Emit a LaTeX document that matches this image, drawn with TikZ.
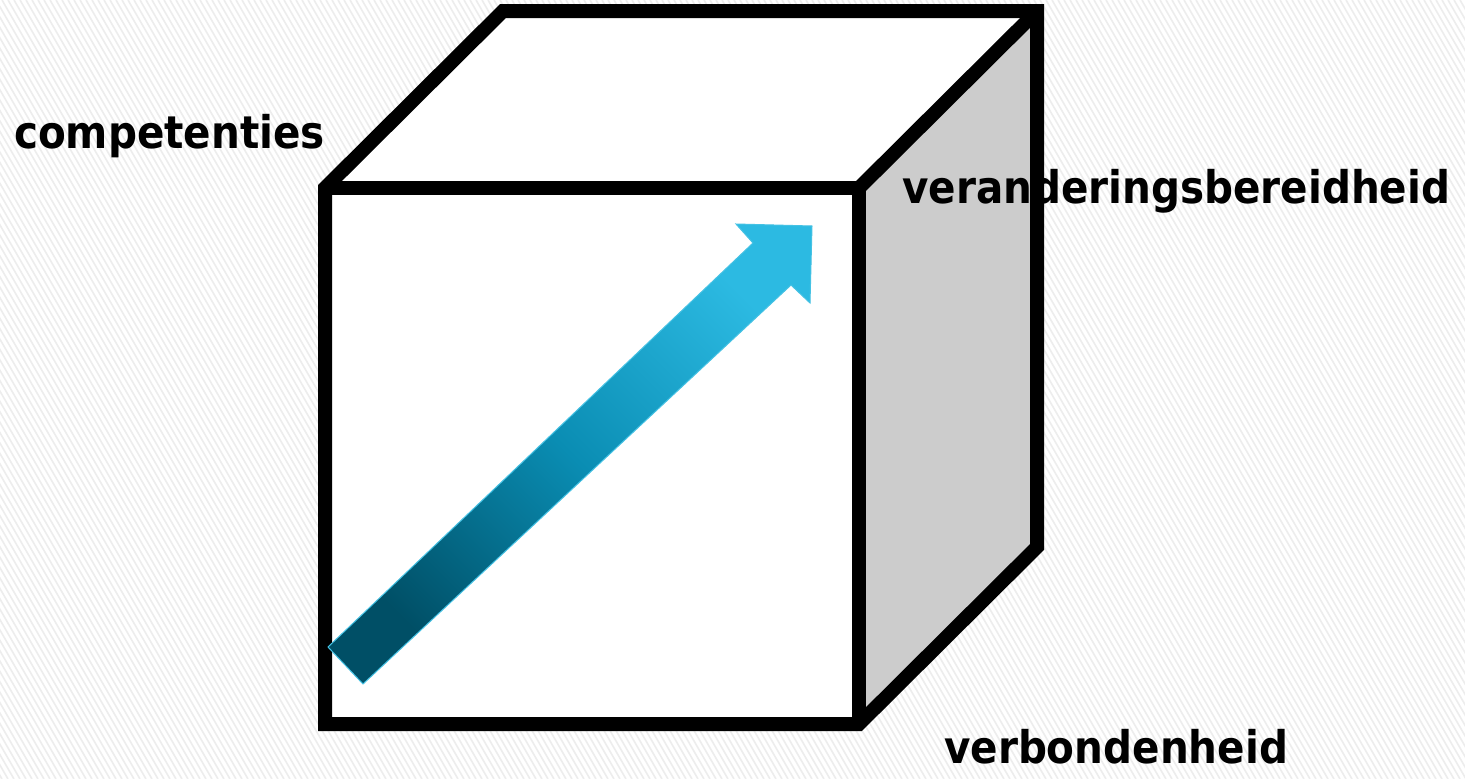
\documentclass[tikz,border=0pt]{standalone}
\usepackage{fontspec}
\setmainfont{DejaVu Sans}
\newfontfamily\lblfont{DejaVu Sans Condensed}
\definecolor{arrdark}{HTML}{004F66}
\definecolor{arrmid}{HTML}{0A8DB3}
\definecolor{arrlight}{HTML}{2CBAE2}
\definecolor{arredge}{HTML}{45C2E4}
\definecolor{sideface}{HTML}{CCCCCC}
\begin{document}
\begin{tikzpicture}[x=1pt,y=-1pt,
  edge/.style={line width=14pt, line join=miter, draw=black},
  lbl/.style={anchor=base west, inner sep=0pt, font=\lblfont\bfseries\fontsize{45}{54}\selectfont},
  stripe/.style={draw=black!7, line width=1.6pt}]
\fill[white] (0,0) rectangle (1465,779);
\useasboundingbox (0,0) rectangle (1465,779);
\begin{scope}
  \clip (0,0) rectangle (1465,779);
  \foreach \i in {-460,-454,...,1470} \draw[stripe] (\i,0) -- ++(450,779);
\end{scope}
% cube corners
\coordinate (A) at (325,188);
\coordinate (B) at (859,188);
\coordinate (C) at (859,724);
\coordinate (D) at (325,724);
\coordinate (E) at (503,11);
\coordinate (F) at (1037,11);
\coordinate (G) at (1037,547);
% faces
\fill[white] (A) -- (E) -- (F) -- (B) -- cycle;
\fill[sideface] (B) -- (F) -- (G) -- (C) -- cycle;
\fill[white] (A) -- (B) -- (C) -- (D) -- cycle;
% labels
\node[lbl] (comp) at (14,148) {competenties};
\node[lbl] (verand) at (902,203) {veranderingsbereidheid};
\node[lbl] (verb) at (944,763) {verbondenheid};
% edges
\draw[edge] (A) -- (E) -- (F) -- (G) -- (C) -- (D) -- cycle;
\draw[edge] (A) -- (B) -- (C);
\draw[edge] (B) -- (F);
% arrow
\coordinate (t1) at (328,647);
\coordinate (n1) at (753,243);
\coordinate (b1) at (736,224);
\coordinate (tip) at (812,226);
\coordinate (b2) at (810,303);
\coordinate (n2) at (791,285);
\coordinate (t2) at (363,684);
\fill[black, opacity=0.15, xshift=4pt, yshift=-6pt] (t1) -- (n1) -- (b1) -- (tip) -- (b2) -- (n2) -- (t2) -- cycle;
\shade[top color=arrlight, bottom color=arrdark, middle color=arrmid, shading angle=-45]
  (t1) -- (n1) -- (b1) -- (tip) -- (b2) -- (n2) -- (t2) -- cycle;
\draw[arredge, line width=1pt, line join=miter] (t1) -- (n1) -- (b1) -- (tip) -- (b2) -- (n2) -- (t2) -- cycle;
\end{tikzpicture}
\end{document}
